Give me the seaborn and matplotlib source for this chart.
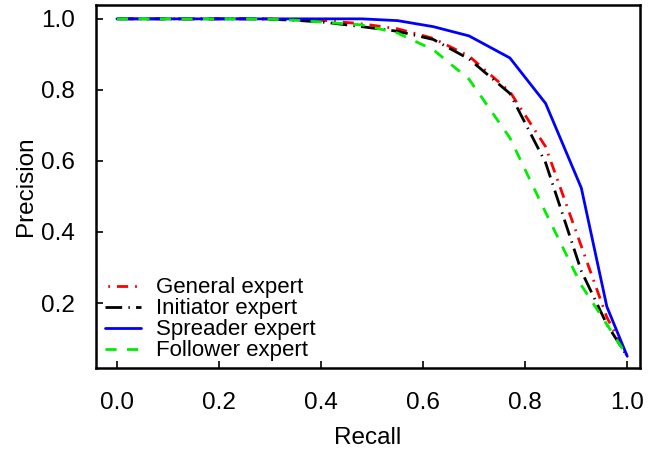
import matplotlib
matplotlib.use("Agg")
import matplotlib.pyplot as plt
import seaborn as sns
import pandas as pd

recall = [0.0, 0.07, 0.14, 0.21, 0.28, 0.35, 0.41, 0.48, 0.55, 0.62, 0.69, 0.77, 0.84, 0.91, 0.96, 1.0]
general   = [1.0, 1.0, 1.0, 1.0, 1.0, 0.998, 0.995, 0.986, 0.972, 0.945, 0.895, 0.795, 0.64, 0.36, 0.16, 0.05]
initiator = [1.0, 1.0, 1.0, 1.0, 1.0, 0.996, 0.99, 0.978, 0.965, 0.942, 0.887, 0.79, 0.595, 0.29, 0.14, 0.05]
spreader  = [1.0, 1.0, 1.0, 1.0, 1.0, 1.0, 1.0, 1.0, 0.995, 0.978, 0.952, 0.89, 0.762, 0.524, 0.19, 0.05]
follower  = [1.0, 1.0, 1.0, 1.0, 1.0, 0.996, 0.99, 0.983, 0.96, 0.913, 0.83, 0.665, 0.455, 0.25, 0.14, 0.05]

names = ["General expert", "Initiator expert", "Spreader expert", "Follower expert"]
series = [general, initiator, spreader, follower]
colors = ["#ff0000", "#000000", "#0000ff", "#00ee00"]
styles = [(11, (8, 5, 1.3, 5)), (0, (12, 4.5, 1.0, 4.5)), "-", (0, (8, 7.5))]

sns.set_style("white")
plt.rcParams["font.family"] = ["Liberation Sans", "DejaVu Sans"]
plt.rcParams["lines.scale_dashes"] = False
plt.rcParams["text.color"] = "black"
plt.rcParams["axes.labelcolor"] = "black"
plt.rcParams["xtick.color"] = "black"
plt.rcParams["ytick.color"] = "black"

fig = plt.figure(figsize=(6.48, 4.54), dpi=100)
ax = fig.add_axes([96 / 648, 1 - 368 / 454, (640 - 96) / 648, (368 - 5) / 454])

for name, vals, c, ls in zip(names, series, colors, styles):
    df = pd.DataFrame({"Recall": recall, "Precision": vals})
    sns.lineplot(data=df, x="Recall", y="Precision", ax=ax, color=c, linestyle=ls,
                 linewidth=2.0, label=name, sort=False, estimator=None)

ax.set_xlim(-0.041, 1.025)
ax.set_ylim(0.017, 1.039)
ax.set_xticks([0.0, 0.2, 0.4, 0.6, 0.8, 1.0])
ax.set_xticklabels(["0.0", "0.2", "0.4", "0.6", "0.8", "1.0"])
ax.set_yticks([0.2, 0.4, 0.6, 0.8, 1.0])
ax.set_yticklabels(["0.2", "0.4", "0.6", "0.8", "1.0"])
ax.tick_params(direction="in", length=5, width=1.2, labelsize=17.5,
               bottom=True, left=True, top=False, right=False)
ax.tick_params(axis="x", pad=17)
ax.tick_params(axis="y", pad=15)
for s in ax.spines.values():
    s.set_color("black")
    s.set_linewidth(1.8)
ax.set_xlabel("Recall", fontsize=17.5, labelpad=10)
ax.set_ylabel("Precision", fontsize=17.5, labelpad=3)

leg = ax.legend(loc="lower left", frameon=False, fontsize=16, handlelength=1.6,
                handletextpad=0.68, labelspacing=0.0, borderaxespad=0.0,
                borderpad=0.3, bbox_to_anchor=(0.005, 0.0))

fig.savefig("out.png", dpi=100)
